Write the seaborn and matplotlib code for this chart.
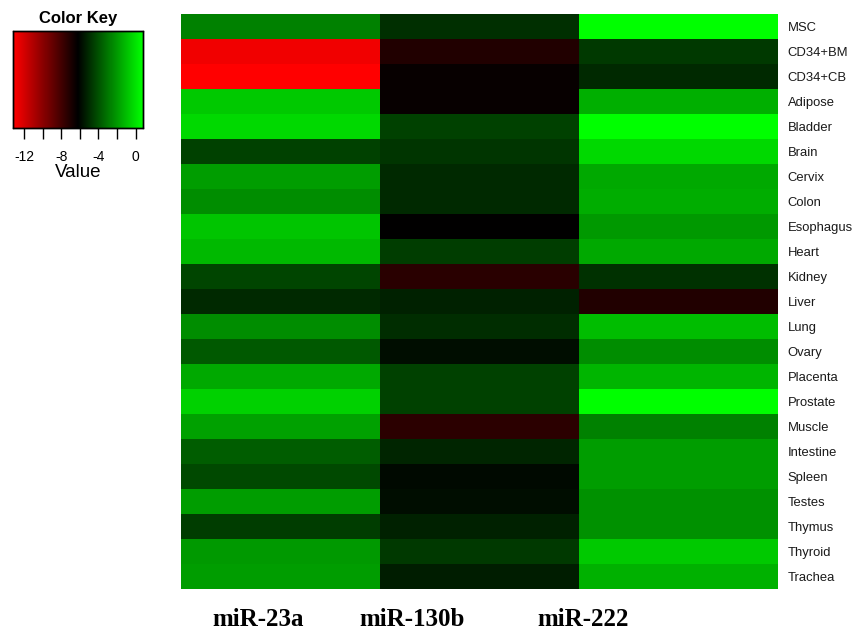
import numpy as np
import pandas as pd
import matplotlib
matplotlib.use("Agg")
import matplotlib.pyplot as plt
import seaborn as sns
from matplotlib.colors import LinearSegmentedColormap

tissues = ["MSC", "CD34+BM", "CD34+CB", "Adipose", "Bladder", "Brain", "Cervix",
           "Colon", "Esophagus", "Heart", "Kidney", "Liver", "Lung", "Ovary",
           "Placenta", "Prostate", "Muscle", "Intestine", "Spleen", "Testes",
           "Thymus", "Thyroid", "Trachea"]
mirnas = ["miR-23a", "miR-130b", "miR-222"]

mir23a = [-2.7, -12.8, -13.2, -0.7, -0.27, -4.44, -1.92, -2.36, -0.82, -1.15,
          -4.33, -5.1, -2.36, -3.78, -1.59, -0.49, -1.81, -3.67, -4.22, -1.92,
          -4.55, -2.03, -1.92]
mir130b = [-4.9, -7.1, -6.4, -6.4, -4.44, -4.75, -5.1, -5.1, -6.25, -4.55,
           -7.3, -5.32, -4.99, -5.87, -4.44, -4.44, -7.4, -5.21, -5.98, -5.87,
           -5.32, -4.66, -5.43]
mir222 = [0.8, -4.66, -5.1, -1.4, 0.8, -0.27, -1.59, -1.48, -2.03, -1.59,
          -4.88, -7.08, -1.04, -2.36, -1.26, 0.8, -2.69, -1.92, -1.92, -2.25,
          -2.25, -0.71, -1.37]

key_ticks = [-12, -10, -8, -6, -4, -2, 0]
key_labels = ["-12", "", "-8", "", "-4", "", "0"]

df = pd.DataFrame({"miR-23a": mir23a, "miR-130b": mir130b, "miR-222": mir222},
                  index=tissues)

cmap = LinearSegmentedColormap.from_list("rg", ["#FF0000", "#000000", "#00FF00"])

W, H = 853, 634
fig = plt.figure(figsize=(W / 100, H / 100), dpi=100)

def box(x0, y0, x1, y1):
    return [x0 / W, 1 - y1 / H, (x1 - x0) / W, (y1 - y0) / H]

ax = fig.add_axes(box(181, 14, 778, 589))
kax = fig.add_axes(box(13, 31, 143, 128))

sns.heatmap(df, ax=ax, cmap=cmap, vmin=-13.2, vmax=0.8, cbar=True, cbar_ax=kax,
            cbar_kws={"orientation": "horizontal"}, linewidths=0)

# row labels on the right
ax.yaxis.tick_right()
ax.set_yticks(np.arange(len(tissues)) + 0.5)
ax.set_yticklabels(tissues, rotation=0, fontsize=9.4, family="Liberation Sans",
                   color="#1a1a1a")
ax.tick_params(axis="y", length=0, pad=7)

# column labels
ax.set_xticks([0.39, 1.16, 2.02])
ax.set_xticklabels(mirnas, rotation=0, fontsize=18, fontweight="bold",
                   family="Liberation Serif")
ax.tick_params(axis="x", length=0, pad=14)
ax.set_xlabel("")
ax.set_ylabel("")

# color key
kax.set_xticks(key_ticks)
kax.set_xticklabels(key_labels, fontsize=10, family="Liberation Sans")
kax.tick_params(axis="x", length=8, width=1, pad=8, bottom=True, top=False,
                labelbottom=True, labeltop=False)
kax.xaxis.set_ticks_position("bottom")
for s in kax.spines.values():
    s.set_visible(True)
    s.set_linewidth(1)
    s.set_color("black")
kax.set_xlabel("Value", fontsize=13.5, family="Liberation Sans", labelpad=0)
kax.set_title("Color Key", fontsize=12, fontweight="bold", family="Liberation Sans",
              pad=6)

fig.savefig("out.png", dpi=100)
